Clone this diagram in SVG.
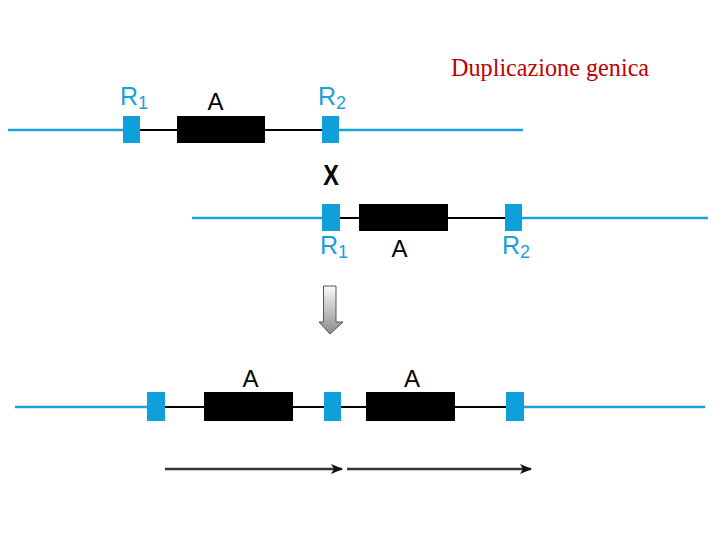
<svg xmlns="http://www.w3.org/2000/svg" width="720" height="540" viewBox="0 0 720 540">
<defs>
<style>
.bl{stroke:#1ba1dc;stroke-width:2.5;fill:none}
.k{stroke:#000;stroke-width:2;fill:none}
.rb{fill:#0f9fdb}
.gb{fill:#000}
.lbl{font-family:"Liberation Sans",Arial,sans-serif;font-size:24px}
.rl{fill:#1a9fd8;font-size:25px}
.sub{font-size:18px}
.ar{stroke:#333;stroke-width:2.5;fill:none}
</style>
<linearGradient id="g" x1="0" y1="0" x2="0" y2="1">
<stop offset="0" stop-color="#fafafa"/>
<stop offset="1" stop-color="#8a8a8a"/>
</linearGradient>
<marker id="ah" viewBox="0 0 12 10" refX="11" refY="5" markerWidth="12" markerHeight="10" markerUnits="userSpaceOnUse" orient="auto">
<path d="M0,0 L12,5 L0,10 L3,5 Z" fill="#111"/>
</marker>
</defs>
<rect width="720" height="540" fill="#fff"/>
<text x="451" y="76" font-family="Liberation Serif,'Times New Roman',serif" font-size="24.2" fill="#c00000">Duplicazione genica</text>

<g id="connectors">
<line class="bl" x1="8" y1="130" x2="123" y2="130"/>
<line class="k" x1="140" y1="130" x2="322" y2="130"/>
<line class="bl" x1="339" y1="130" x2="523" y2="130"/>
<line class="bl" x1="192" y1="218" x2="322" y2="218"/>
<line class="k" x1="340" y1="218" x2="505" y2="218"/>
<line class="bl" x1="522" y1="218" x2="708" y2="218"/>
<line class="bl" x1="15" y1="407" x2="147" y2="407"/>
<line class="k" x1="165" y1="407" x2="506" y2="407"/>
<line class="bl" x1="524" y1="407" x2="705" y2="407"/>
<line class="ar" x1="165" y1="469" x2="342" y2="469" marker-end="url(#ah)"/>
<line class="ar" x1="347" y1="469" x2="531" y2="469" marker-end="url(#ah)"/>
</g>

<g id="row1">
<rect class="rb" x="123" y="116" width="17" height="27"/>
<rect class="gb" x="177" y="116" width="88" height="27"/>
<rect class="rb" x="322" y="116" width="17" height="27"/>
<text class="lbl rl" x="120" y="105">R<tspan class="sub" dy="4">1</tspan></text>
<text class="lbl" x="215.5" y="110" text-anchor="middle">A</text>
<text class="lbl rl" x="318" y="105">R<tspan class="sub" dy="4">2</tspan></text>
</g>

<g id="cross">
<text x="331" y="185" text-anchor="middle" font-family="Liberation Sans,Arial,sans-serif" font-weight="bold" font-size="30" transform="translate(331 0) scale(0.78 1) translate(-331 0)">X</text>
</g>

<g id="row2">
<rect class="rb" x="322" y="204" width="18" height="27"/>
<rect class="gb" x="359" y="204" width="89" height="27"/>
<rect class="rb" x="505" y="204" width="17" height="27"/>
<text class="lbl rl" x="320" y="254">R<tspan class="sub" dy="4">1</tspan></text>
<text class="lbl" x="399.5" y="257" text-anchor="middle">A</text>
<text class="lbl rl" x="502" y="254">R<tspan class="sub" dy="4">2</tspan></text>
</g>

<g id="bigarrow">
<path d="M323.5,286 L336,286 L336,322 L343,322 L330,334 L319,322 L323.5,322 Z" fill="url(#g)" stroke="#555" stroke-width="1"/>
</g>

<g id="row3">
<rect class="rb" x="147" y="392" width="18" height="29"/>
<rect class="gb" x="204" y="392" width="89" height="29"/>
<rect class="rb" x="324" y="392" width="17" height="29"/>
<rect class="gb" x="366" y="392" width="89" height="29"/>
<rect class="rb" x="506" y="392" width="18" height="29"/>
<text class="lbl" x="250.5" y="387" text-anchor="middle">A</text>
<text class="lbl" x="412" y="387" text-anchor="middle">A</text>
</g>
</svg>
